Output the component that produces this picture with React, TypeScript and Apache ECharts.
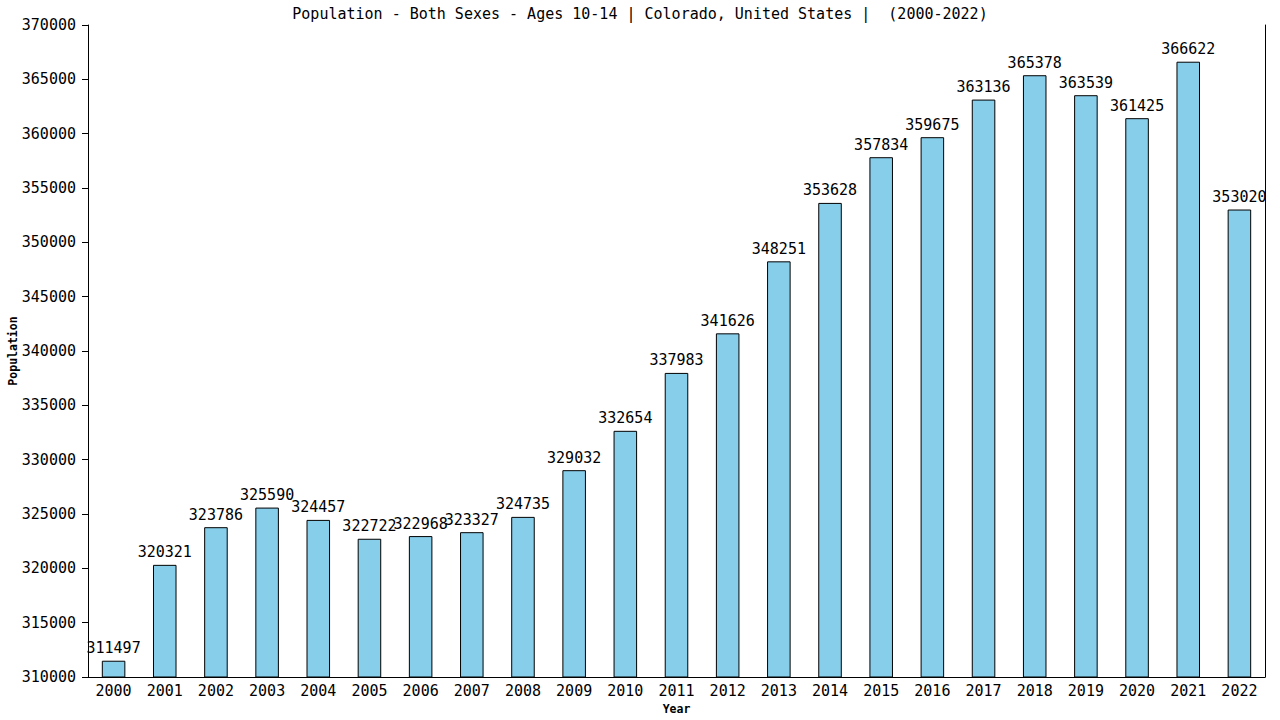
import { useEffect, useRef } from 'react'
import * as echarts from 'echarts'

// 数据
const years = [
  '2000', '2001', '2002', '2003', '2004', '2005', '2006', '2007', '2008', '2009', '2010', '2011',
  '2012', '2013', '2014', '2015', '2016', '2017', '2018', '2019', '2020', '2021', '2022',
]
const population = [
  311497, 320321, 323786, 325590, 324457, 322722, 322968, 323327, 324735, 329032, 332654, 337983,
  341626, 348251, 353628, 357834, 359675, 363136, 365378, 363539, 361425, 366622, 353020,
]
const yMin = 310000
const yMax = 370000
const yStep = 5000

const titleText = 'Population - Both Sexes - Ages 10-14 | Colorado, United States |  (2000-2022)'
const mono = '"DejaVu Sans Mono", "Liberation Mono", monospace'

export default function App() {
  const chartRef = useRef<HTMLDivElement>(null)

  useEffect(() => {
    if (!chartRef.current) return
    const chart = echarts.init(chartRef.current, null, { renderer: 'svg' })

    chart.setOption({
      animation: false,
      backgroundColor: '#ffffff',
      title: {
        text: titleText,
        left: 'center',
        top: 1,
        textStyle: { fontFamily: mono, fontSize: 15, fontWeight: 'normal', color: '#000' },
      },
      grid: { left: 88, right: 15, top: 25, bottom: 43, containLabel: false, outerBoundsMode: 'none' },
      xAxis: {
        type: 'category',
        data: years,
        name: 'Year',
        nameLocation: 'middle',
        nameGap: 26,
        nameMoveOverlap: false,
        nameTextStyle: { fontFamily: mono, fontSize: 11.5, fontWeight: 'bold', color: '#000' },
        axisLine: { lineStyle: { color: '#000', width: 1 } },
        axisTick: { show: false },
        axisLabel: { fontFamily: mono, fontSize: 15, color: '#000', margin: 6, interval: 0 },
      },
      yAxis: [
        {
          type: 'value',
          min: yMin,
          max: yMax,
          interval: yStep,
          name: 'Population',
          nameLocation: 'middle',
          nameGap: 69,
          nameMoveOverlap: false,
          nameTextStyle: { fontFamily: mono, fontSize: 11.5, fontWeight: 'bold', color: '#000' },
          axisLine: { show: true, lineStyle: { color: '#000', width: 1 } },
          axisTick: { show: true, length: 6, lineStyle: { color: '#000' } },
          axisLabel: {
            fontFamily: mono,
            fontSize: 15,
            color: '#000',
            margin: 12,
            formatter: (v: number) => String(v),
          },
          splitLine: { show: false },
        },
        {
          type: 'value',
          position: 'right',
          min: yMin,
          max: yMax,
          interval: yStep,
          axisLine: { show: true, lineStyle: { color: '#000', width: 1 } },
          axisTick: { show: false },
          axisLabel: { show: false },
          splitLine: { show: false },
        },
      ],
      series: [
        {
          type: 'bar',
          data: population,
          barWidth: '46%',
          itemStyle: { color: '#87CEEB', borderColor: '#000', borderWidth: 1 },
          label: {
            show: true,
            position: 'top',
            distance: 5,
            fontFamily: mono,
            fontSize: 15,
            color: '#000',
          },
        },
      ],
    })

    return () => {
      chart.dispose()
    }
  }, [])

  return (
    <div
      ref={chartRef}
      style={{ position: 'absolute', left: 0, top: 0, width: '1280px', height: '720px' }}
    />
  )
}
